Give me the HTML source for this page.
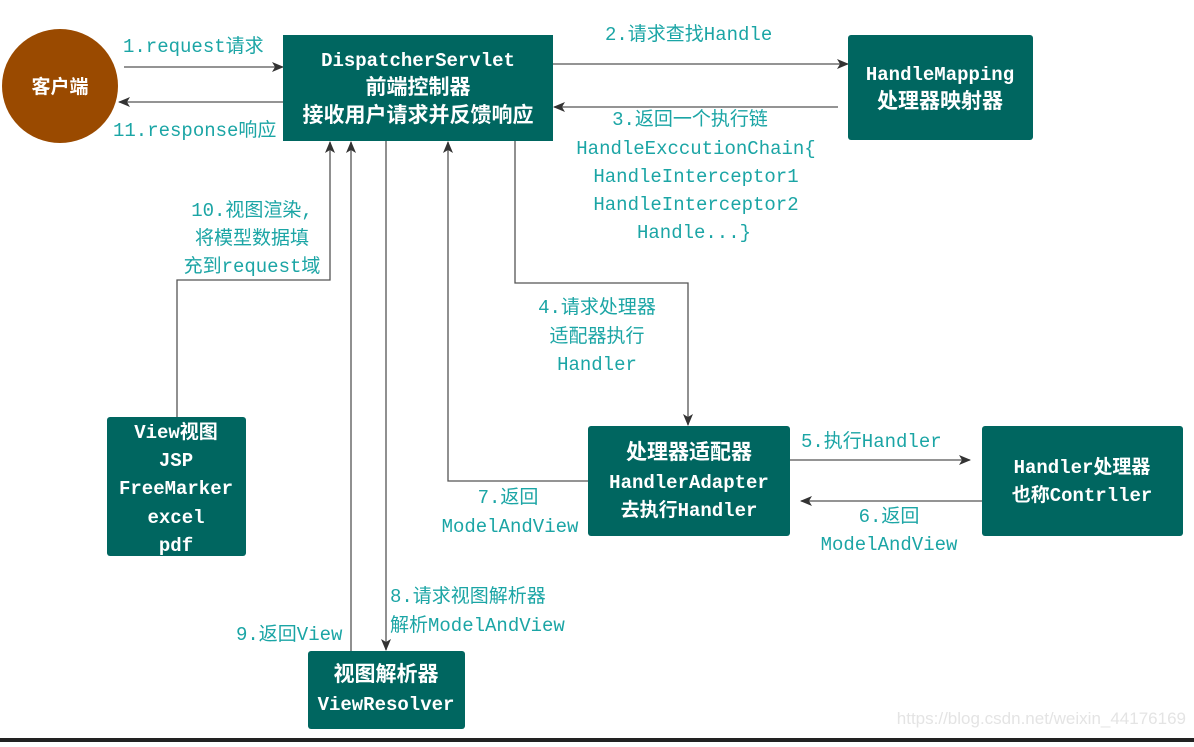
<!DOCTYPE html>
<html><head><meta charset="utf-8"><style>
body{margin:0;background:#fff;width:1194px;height:742px;overflow:hidden}
svg text{font-family:"Liberation Mono","Noto Sans CJK SC",monospace;font-size:19px}
.l{fill:#1ba5a5}
.w{fill:#fff;font-weight:bold}
.c{font-size:21px}
</style></head><body>
<svg width="1194" height="742" viewBox="0 0 1194 742">
<defs><marker id="a" markerWidth="12" markerHeight="10" refX="11" refY="5" orient="auto" markerUnits="userSpaceOnUse"><path d="M0,0 L12,5 L0,10 L3,5 z" fill="#333"/></marker></defs>
<g stroke="#555" stroke-width="1.3" fill="none" marker-end="url(#a)">
<line x1="124" y1="67" x2="283" y2="67"/>
<line x1="283" y1="102" x2="119" y2="102"/>
<line x1="553" y1="64" x2="848" y2="64"/>
<line x1="838" y1="107" x2="554" y2="107"/>
<polyline points="515,141 515,283 688,283 688,425"/>
<line x1="790" y1="460" x2="970" y2="460"/>
<line x1="982" y1="501" x2="801" y2="501"/>
<polyline points="588,481 448,481 448,142"/>
<line x1="386" y1="141" x2="386" y2="650"/>
<line x1="351" y1="651" x2="351" y2="142"/>
<polyline points="177,417 177,280 330,280 330,142"/>
</g>
<ellipse cx="60" cy="86" rx="58" ry="57" fill="#9a4a00"/>
<text x="60" y="93" class="w" text-anchor="middle">客户端</text>
<rect x="283" y="35" width="270" height="106" fill="#006660"/>
<text class="w" text-anchor="middle"><tspan x="418" y="66">DispatcherServlet</tspan><tspan x="418" y="94" class="c">前端控制器</tspan><tspan x="418" y="122" class="c">接收用户请求并反馈响应</tspan></text>
<rect x="848" y="35" width="185" height="105" rx="3" fill="#006660"/>
<text class="w" text-anchor="middle"><tspan x="940" y="80">HandleMapping</tspan><tspan x="940" y="108" class="c">处理器映射器</tspan></text>
<rect x="588" y="426" width="202" height="110" rx="3" fill="#006660"/>
<text class="w" text-anchor="middle"><tspan x="689" y="459" class="c">处理器适配器</tspan><tspan x="689" y="488">HandlerAdapter</tspan><tspan x="689" y="516">去执行Handler</tspan></text>
<rect x="982" y="426" width="201" height="110" rx="3" fill="#006660"/>
<text class="w" text-anchor="middle"><tspan x="1082" y="473">Handler处理器</tspan><tspan x="1082" y="501">也称Contrller</tspan></text>
<rect x="107" y="417" width="139" height="139" rx="3" fill="#006660"/>
<text class="w" text-anchor="middle"><tspan x="176" y="438">View视图</tspan><tspan x="176" y="466">JSP</tspan><tspan x="176" y="494">FreeMarker</tspan><tspan x="176" y="523">excel</tspan><tspan x="176" y="551">pdf</tspan></text>
<rect x="308" y="651" width="157" height="78" rx="3" fill="#006660"/>
<text class="w" text-anchor="middle"><tspan x="386" y="681" class="c">视图解析器</tspan><tspan x="386" y="710">ViewResolver</tspan></text>
<text class="l" x="123" y="52">1.request请求</text>
<text class="l" x="113" y="136">11.response响应</text>
<text class="l" x="605" y="40">2.请求查找Handle</text>
<text class="l" text-anchor="middle"><tspan x="690" y="125">3.返回一个执行链</tspan><tspan x="696" y="154">HandleExccutionChain{</tspan><tspan x="696" y="182">HandleInterceptor1</tspan><tspan x="696" y="210">HandleInterceptor2</tspan><tspan x="694" y="238">Handle...}</tspan></text>
<text class="l" text-anchor="middle"><tspan x="597" y="313">4.请求处理器</tspan><tspan x="597" y="342">适配器执行</tspan><tspan x="597" y="370">Handler</tspan></text>
<text class="l" x="801" y="447">5.执行Handler</text>
<text class="l" text-anchor="middle"><tspan x="889" y="522">6.返回</tspan><tspan x="889" y="550">ModelAndView</tspan></text>
<text class="l" text-anchor="middle"><tspan x="508" y="503">7.返回</tspan><tspan x="510" y="532">ModelAndView</tspan></text>
<text class="l" x="390" y="602">8.请求视图解析器</text>
<text class="l" x="390" y="631">解析ModelAndView</text>
<text class="l" x="236" y="640">9.返回View</text>
<text class="l" text-anchor="middle"><tspan x="252" y="216">10.视图渲染,</tspan><tspan x="252" y="244">将模型数据填</tspan><tspan x="252" y="272">充到request域</tspan></text>
<text x="1186" y="724" text-anchor="end" style="font-family:'Liberation Sans',sans-serif;font-size:17px;fill:#e4e4e4">https://blog.csdn.net/weixin_44176169</text>
<rect x="0" y="738" width="1194" height="4" fill="#222"/>
</svg>
</body></html>
